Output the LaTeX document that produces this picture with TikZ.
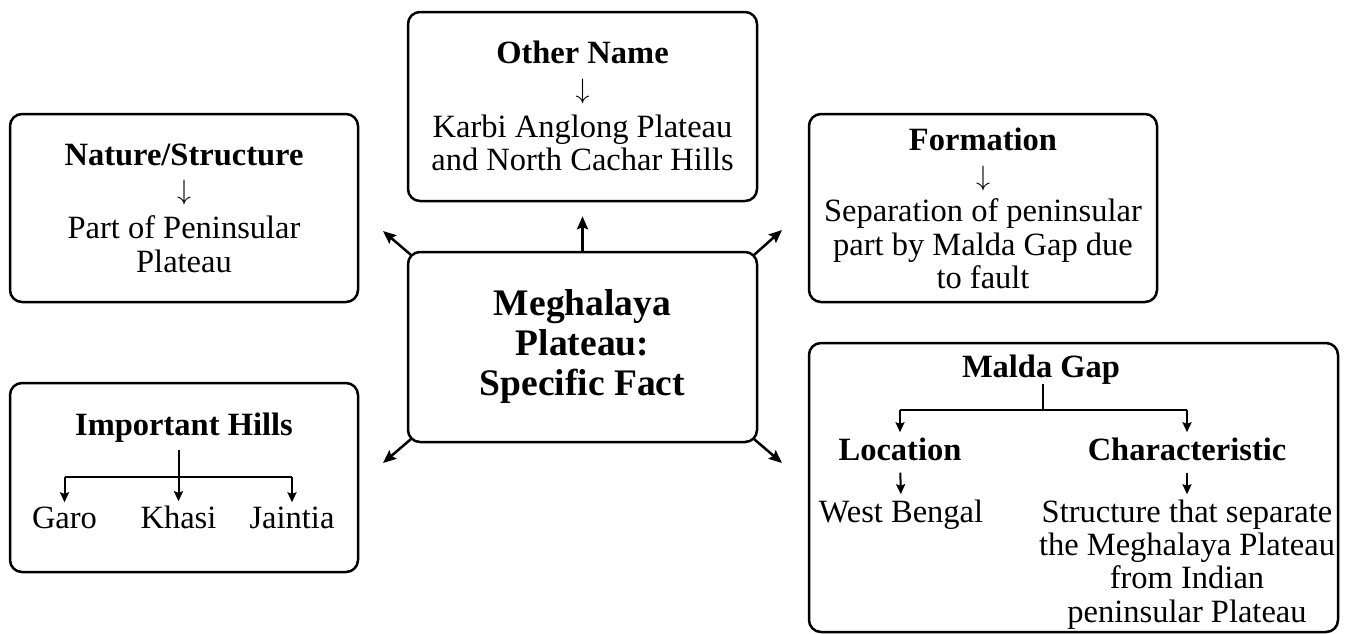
\RequirePackage{fix-cm}
\documentclass[tikz,border=0pt]{standalone}
\usepackage{fontspec}
\setmainfont{Liberation Serif}
\usetikzlibrary{arrows.meta}
\begin{document}
\begin{tikzpicture}[x=1pt,y=-1pt,
  box/.style={draw, line width=2.5pt, rounded corners=12pt, inner sep=0},
  txt/.style={font=\fontsize{32.5}{34}\selectfont, inner sep=0, anchor=base},
  atxt/.style={font=\fontsize{28}{30}\selectfont, inner sep=0, anchor=base},
  btxt/.style={font=\fontsize{32.5}{34}\selectfont\bfseries, inner sep=0, anchor=base},
  ctxt/.style={font=\fontsize{37.5}{40}\selectfont\bfseries, inner sep=0, anchor=base},
  arr/.style={line width=2.5pt, -{Stealth[length=13pt,width=11pt,inset=2pt]}},
  ln/.style={line width=2pt},
  arrs/.style={line width=2pt, -{Stealth[length=10pt,width=9pt,inset=1.5pt]}}]
\useasboundingbox (0,0) rectangle (1346,633);
% boxes
\node[box, minimum width=349pt, minimum height=190pt] (c) at (582.5,347) {};
\node[box, minimum width=349pt, minimum height=189pt] (other) at (582.5,106.5) {};
\node[box, minimum width=348pt, minimum height=188pt] (nature) at (184,208) {};
\node[box, minimum width=348pt, minimum height=188pt] (form) at (983,208) {};
\node[box, minimum width=348pt, minimum height=189pt] (hills) at (184,477.5) {};
\node[box, minimum width=529pt, minimum height=289pt] (malda) at (1073.5,487.5) {};
% centre text
\node[ctxt] (c1) at (582.5,315) {Meghalaya};
\node[ctxt] (c2) at (582.5,355) {Plateau:};
\node[ctxt] (c3) at (582.5,395) {Specific Fact};
% other name
\node[btxt] (otherT) at (582.5,63) {Other Name};
\node[atxt] (otherA) at (582.5,98) {$\downarrow$};
\node[txt] (other1) at (582.5,137) {Karbi Anglong Plateau};
\node[txt] (other2) at (582.5,170) {and North Cachar Hills};
% nature
\node[btxt] (natT) at (184,165) {Nature/Structure};
\node[atxt] (natA) at (184,199) {$\downarrow$};
\node[txt] (nat1) at (184,238) {Part of Peninsular};
\node[txt] (nat2) at (184,272) {Plateau};
% formation
\node[btxt] (formT) at (983,150) {Formation};
\node[atxt] (formA) at (983,185) {$\downarrow$};
\node[txt] (form1) at (983,221) {Separation of peninsular};
\node[txt] (form2) at (983,255) {part by Malda Gap due};
\node[txt] (form3) at (983,288) {to fault};
% hills
\node[btxt] (hillsT) at (184,435) {Important Hills};
\node[txt] (garo) at (64.5,528) {Garo};
\node[txt] (khasi) at (178.5,528) {Khasi};
\node[txt] (jaintia) at (292,528) {Jaintia};
\coordinate (hbar) at (178.5,477);
\draw[arrs, shorten >=4pt] (khasi |- hillsT.south) ++(0,8) -- (khasi.north);
\draw[ln] (garo |- hbar) -- (jaintia |- hbar);
\draw[arrs, shorten >=4pt] (garo |- hbar) -- (garo.north);
\draw[arrs, shorten >=4pt] (jaintia |- hbar) -- (jaintia.north);
% malda
\node[btxt] (mdT) at (1041,377) {Malda Gap};
\node[btxt] (loc) at (900,460) {Location};
\node[btxt] (char) at (1187,460) {Characteristic};
\node[txt] (wb) at (901,522) {West Bengal};
\node[txt] (s1) at (1187,522) {Structure that separate};
\node[txt] (s2) at (1187,555) {the Meghalaya Plateau};
\node[txt] (s3) at (1187,588) {from Indian};
\node[txt] (s4) at (1187,622) {peninsular Plateau};
\coordinate (mbar) at (1043,410);
\draw[ln] (mbar |- mdT.south) -- (mbar);
\draw[ln] (loc |- mbar) -- (char |- mbar);
\draw[arrs, shorten >=5pt] (loc |- mbar) -- (loc.north);
\draw[arrs, shorten >=5pt] (char |- mbar) -- (char.north);
\draw[arrs, shorten <=12pt, shorten >=5pt] (loc.south) -- (wb.north);
\draw[arrs, shorten <=12pt, shorten >=5pt] (char.south) -- (s1.north);
% centre connectors
\coordinate (ulT) at (383,231);
\coordinate (urT) at (782,230);
\coordinate (llT) at (383,463);
\coordinate (lrT) at (782,463);
\draw[arr, shorten >=14pt] (c.north) -- (other.south);
\draw[arr] ([shift={(4pt,-4pt)}]c.north west) -- (ulT);
\draw[arr] ([shift={(-4pt,-4pt)}]c.north east) -- (urT);
\draw[arr] ([shift={(4pt,4pt)}]c.south west) -- (llT);
\draw[arr] ([shift={(-4pt,4pt)}]c.south east) -- (lrT);
\end{tikzpicture}
\end{document}
